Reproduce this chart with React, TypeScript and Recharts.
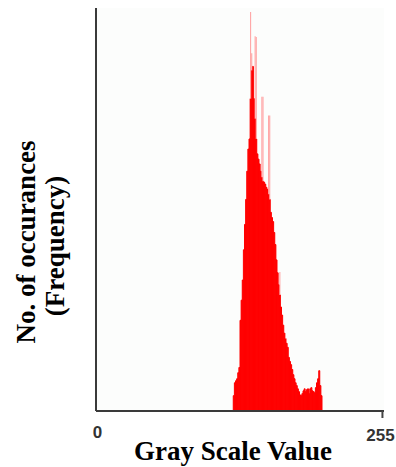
import { BarChart, Bar, XAxis, YAxis, CartesianGrid, Label } from 'recharts';

// gray levels present in the histogram (all others are zero)
const firstGray = 122;
const solidCounts = [
  38, 70, 75, 80, 95, 108, 225, 275, 325, 400,
  463, 525, 595, 650, 675, 775, 845, 855, 775, 725,
  675, 638, 625, 613, 595, 580, 570, 568, 563, 555,
  550, 538, 525, 493, 480, 470, 443, 413, 375, 343,
  313, 288, 258, 238, 213, 193, 180, 168, 158, 133,
  123, 115, 103, 90, 80, 70, 63, 55, 48, 40,
  38, 43, 50, 55, 48, 53, 55, 43, 55, 58,
  50, 48, 45, 58, 70, 80, 100, 63, 38,
];
// thin spikes that show lighter above the solid body
const spikeGrays = [137, 138, 141, 142, 147, 148, 153, 154, 163, 168];
const spikeTops = [990, 888, 930, 928, 780, 780, 733, 733, 345, 193];

const data = Array.from({ length: 256 }, (_, gray) => {
  const i = gray - firstGray;
  const solid = i >= 0 && i < solidCounts.length ? solidCounts[i] : 0;
  const s = spikeGrays.indexOf(gray);
  const extra = s >= 0 ? Math.max(spikeTops[s] - solid, 0) : 0;
  return { gray, solid, extra };
});

const serif = '"Liberation Serif", "Times New Roman", serif';

function GrayTick(props: any) {
  const { x, y, payload } = props;
  if (payload.value !== 0 && payload.value !== 255) return <g />;
  return (
    <g>
      {payload.value === 255 && <line x1={x - 1} x2={x - 1} y1={y - 8} y2={y - 1} stroke="#444" strokeWidth={2} />}
      <text
        x={payload.value === 255 ? x - 3 : x + 1}
        y={y}
        dy={payload.value === 255 ? 22 : 19}
        textAnchor="middle"
        fontFamily='"Liberation Sans", Arial, sans-serif'
        fontWeight="bold"
        fontSize={17}
        fill="#333"
      >
        {payload.value}
      </text>
    </g>
  );
}

export default function App() {
  return (
    <div style={{ position: 'absolute', left: 0, top: 0, background: '#fff' }}>
      <BarChart
        width={396}
        height={467}
        data={data}
        margin={{ top: 8, right: 12, bottom: 0, left: 0 }}
        barCategoryGap={0}
        barGap={0}
      >
        <CartesianGrid horizontal={false} vertical={false} fill="#fcfdfc" />
        <XAxis
          dataKey="gray"
          height={56}
          interval={0}
          tickLine={false}
          tick={<GrayTick />}
          axisLine={{ stroke: '#3a3a3a', strokeWidth: 2 }}
        >
          <Label
            content={() => (
              <text x={233} y={460} textAnchor="middle" fontFamily={serif} fontWeight="bold" fontSize={27} fill="#000">
                Gray Scale Value
              </text>
            )}
          />
        </XAxis>
        <YAxis
          width={96}
          domain={[0, 1000]}
          tick={false}
          tickLine={false}
          axisLine={{ stroke: '#3a3a3a', strokeWidth: 2 }}
        >
          <Label
            content={() => (
              <g fontFamily={serif} fontWeight="bold" fontSize={27} fill="#000">
                <text x={35} y={242} textAnchor="middle" transform="rotate(-90 35 242)">
                  No. of occurances
                </text>
                <text x={64} y={246} textAnchor="middle" transform="rotate(-90 64 246)">
                  (Frequency)
                </text>
              </g>
            )}
          />
        </YAxis>
        <Bar dataKey="solid" stackId="h" fill="#ff0000" stroke="#ff0000" strokeWidth={1} isAnimationActive={false} />
        <Bar dataKey="extra" stackId="h" fill="#ff9c9c" isAnimationActive={false} />
      </BarChart>
    </div>
  );
}
